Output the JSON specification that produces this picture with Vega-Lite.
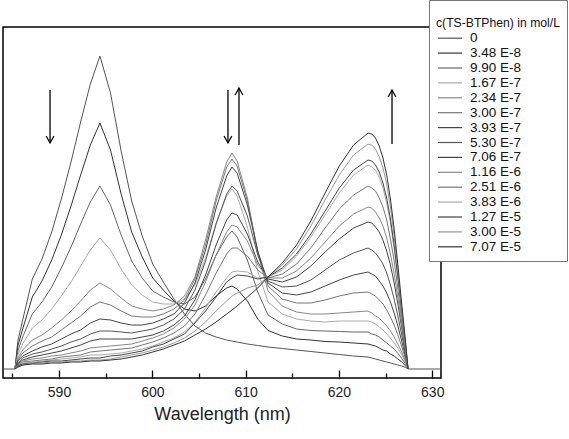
{
"$schema":"https://vega.github.io/schema/vega-lite/v6.json",
"width":438,"height":351,
"autosize":{"type":"none"},
"padding":{"left":3,"top":27,"right":128,"bottom":61},
"config":{"view":{"stroke":"#000","strokeWidth":1.5},"font":"Liberation Sans",
"legend":{"titleFont":"Liberation Sans","labelFont":"Liberation Sans"}},
"resolve":{"axis":{"x":"independent"}},
"layer":[
{"data":{"values":[
{"c":"0","x":584.1,"y":0},{"c":"0","x":585.28,"y":0},{"c":"0","x":585.59,"y":28},{"c":"0","x":586.11,"y":49},{"c":"0","x":587.14,"y":90},{"c":"0","x":588.18,"y":110},{"c":"0","x":589.22,"y":137},{"c":"0","x":590.25,"y":170},{"c":"0","x":591.29,"y":207},{"c":"0","x":592.32,"y":247},{"c":"0","x":593.36,"y":285},{"c":"0","x":594.39,"y":313},{"c":"0","x":595.52,"y":276},{"c":"0","x":596.66,"y":218},{"c":"0","x":597.79,"y":168},{"c":"0","x":598.92,"y":133},{"c":"0","x":600.05,"y":105},{"c":"0","x":601.18,"y":87},{"c":"0","x":602.32,"y":70},{"c":"0","x":603.45,"y":55},{"c":"0","x":604.57,"y":43},{"c":"0","x":605.71,"y":36},{"c":"0","x":606.84,"y":32},{"c":"0","x":607.97,"y":29},{"c":"0","x":608.54,"y":28},{"c":"0","x":609.09,"y":27},{"c":"0","x":610.19,"y":25},{"c":"0","x":611.3,"y":23.5},{"c":"0","x":612.4,"y":22},{"c":"0","x":613.93,"y":20.5},{"c":"0","x":615.46,"y":19},{"c":"0","x":616.99,"y":17.5},{"c":"0","x":618.52,"y":16},{"c":"0","x":620.04,"y":14.5},{"c":"0","x":621.57,"y":13},{"c":"0","x":623.12,"y":12},{"c":"0","x":623.52,"y":11},{"c":"0","x":623.92,"y":10},{"c":"0","x":624.32,"y":9},{"c":"0","x":624.72,"y":8},{"c":"0","x":625.12,"y":7},{"c":"0","x":625.52,"y":6},{"c":"0","x":625.92,"y":5},{"c":"0","x":626.32,"y":4},{"c":"0","x":626.73,"y":3},{"c":"0","x":627.13,"y":1.5},{"c":"0","x":627.41,"y":0},{"c":"0","x":630.9,"y":0},
{"c":"3.48 E-8","x":585.28,"y":0},{"c":"3.48 E-8","x":585.59,"y":23},{"c":"3.48 E-8","x":586.11,"y":40},{"c":"3.48 E-8","x":587.14,"y":72},{"c":"3.48 E-8","x":588.18,"y":88},{"c":"3.48 E-8","x":589.22,"y":109},{"c":"3.48 E-8","x":590.25,"y":134},{"c":"3.48 E-8","x":591.29,"y":163},{"c":"3.48 E-8","x":592.32,"y":194},{"c":"3.48 E-8","x":593.36,"y":224},{"c":"3.48 E-8","x":594.39,"y":246},{"c":"3.48 E-8","x":595.52,"y":219},{"c":"3.48 E-8","x":596.66,"y":175},{"c":"3.48 E-8","x":597.79,"y":137},{"c":"3.48 E-8","x":598.92,"y":112},{"c":"3.48 E-8","x":600.05,"y":91},{"c":"3.48 E-8","x":601.18,"y":79},{"c":"3.48 E-8","x":602.32,"y":68},{"c":"3.48 E-8","x":603.45,"y":60},{"c":"3.48 E-8","x":604.57,"y":58},{"c":"3.48 E-8","x":605.71,"y":63},{"c":"3.48 E-8","x":606.84,"y":73},{"c":"3.48 E-8","x":607.97,"y":81},{"c":"3.48 E-8","x":608.54,"y":83},{"c":"3.48 E-8","x":609.09,"y":80},{"c":"3.48 E-8","x":610.19,"y":68},{"c":"3.48 E-8","x":611.3,"y":50},{"c":"3.48 E-8","x":612.4,"y":38.5},{"c":"3.48 E-8","x":613.93,"y":33},{"c":"3.48 E-8","x":615.46,"y":30},{"c":"3.48 E-8","x":616.99,"y":29},{"c":"3.48 E-8","x":618.52,"y":27.5},{"c":"3.48 E-8","x":620.04,"y":27},{"c":"3.48 E-8","x":621.57,"y":26},{"c":"3.48 E-8","x":623.12,"y":25},{"c":"3.48 E-8","x":623.52,"y":24},{"c":"3.48 E-8","x":623.92,"y":23},{"c":"3.48 E-8","x":624.32,"y":21},{"c":"3.48 E-8","x":624.72,"y":19},{"c":"3.48 E-8","x":625.12,"y":18},{"c":"3.48 E-8","x":625.52,"y":15},{"c":"3.48 E-8","x":625.92,"y":13},{"c":"3.48 E-8","x":626.32,"y":10},{"c":"3.48 E-8","x":626.73,"y":7.1},{"c":"3.48 E-8","x":627.13,"y":3.4},{"c":"3.48 E-8","x":627.41,"y":0},
{"c":"9.90 E-8","x":585.28,"y":0},{"c":"9.90 E-8","x":585.59,"y":18},{"c":"9.90 E-8","x":586.11,"y":32},{"c":"9.90 E-8","x":587.14,"y":55},{"c":"9.90 E-8","x":588.18,"y":67},{"c":"9.90 E-8","x":589.22,"y":82},{"c":"9.90 E-8","x":590.25,"y":101},{"c":"9.90 E-8","x":591.29,"y":122},{"c":"9.90 E-8","x":592.32,"y":145},{"c":"9.90 E-8","x":593.36,"y":167},{"c":"9.90 E-8","x":594.39,"y":183},{"c":"9.90 E-8","x":595.52,"y":164},{"c":"9.90 E-8","x":596.66,"y":134},{"c":"9.90 E-8","x":597.79,"y":108},{"c":"9.90 E-8","x":598.92,"y":91},{"c":"9.90 E-8","x":600.05,"y":78},{"c":"9.90 E-8","x":601.18,"y":72},{"c":"9.90 E-8","x":602.32,"y":67},{"c":"9.90 E-8","x":603.45,"y":65},{"c":"9.90 E-8","x":604.57,"y":72},{"c":"9.90 E-8","x":605.71,"y":90},{"c":"9.90 E-8","x":606.84,"y":114},{"c":"9.90 E-8","x":607.97,"y":132},{"c":"9.90 E-8","x":608.54,"y":138},{"c":"9.90 E-8","x":609.09,"y":132},{"c":"9.90 E-8","x":610.19,"y":109},{"c":"9.90 E-8","x":611.3,"y":77},{"c":"9.90 E-8","x":612.4,"y":54},{"c":"9.90 E-8","x":613.93,"y":45},{"c":"9.90 E-8","x":615.46,"y":40},{"c":"9.90 E-8","x":616.99,"y":38.5},{"c":"9.90 E-8","x":618.52,"y":38},{"c":"9.90 E-8","x":620.04,"y":37.5},{"c":"9.90 E-8","x":621.57,"y":37},{"c":"9.90 E-8","x":623.12,"y":37},{"c":"9.90 E-8","x":623.52,"y":35},{"c":"9.90 E-8","x":623.92,"y":34},{"c":"9.90 E-8","x":624.32,"y":32},{"c":"9.90 E-8","x":624.72,"y":29},{"c":"9.90 E-8","x":625.12,"y":26},{"c":"9.90 E-8","x":625.52,"y":23},{"c":"9.90 E-8","x":625.92,"y":20},{"c":"9.90 E-8","x":626.32,"y":15.5},{"c":"9.90 E-8","x":626.73,"y":10.6},{"c":"9.90 E-8","x":627.13,"y":5.2},{"c":"9.90 E-8","x":627.41,"y":0},
{"c":"1.67 E-7","x":585.28,"y":0},{"c":"1.67 E-7","x":585.59,"y":14},{"c":"1.67 E-7","x":586.11,"y":25},{"c":"1.67 E-7","x":587.14,"y":41},{"c":"1.67 E-7","x":588.18,"y":49},{"c":"1.67 E-7","x":589.22,"y":60},{"c":"1.67 E-7","x":590.25,"y":73},{"c":"1.67 E-7","x":591.29,"y":87},{"c":"1.67 E-7","x":592.32,"y":103},{"c":"1.67 E-7","x":593.36,"y":119},{"c":"1.67 E-7","x":594.39,"y":131},{"c":"1.67 E-7","x":595.52,"y":119},{"c":"1.67 E-7","x":596.66,"y":100},{"c":"1.67 E-7","x":597.79,"y":84},{"c":"1.67 E-7","x":598.92,"y":74},{"c":"1.67 E-7","x":600.05,"y":67},{"c":"1.67 E-7","x":601.18,"y":65},{"c":"1.67 E-7","x":602.32,"y":65},{"c":"1.67 E-7","x":603.45,"y":70},{"c":"1.67 E-7","x":604.57,"y":84},{"c":"1.67 E-7","x":605.71,"y":111},{"c":"1.67 E-7","x":606.84,"y":146},{"c":"1.67 E-7","x":607.97,"y":173},{"c":"1.67 E-7","x":608.54,"y":180},{"c":"1.67 E-7","x":609.09,"y":173},{"c":"1.67 E-7","x":610.19,"y":142},{"c":"1.67 E-7","x":611.3,"y":98},{"c":"1.67 E-7","x":612.4,"y":67},{"c":"1.67 E-7","x":613.93,"y":55},{"c":"1.67 E-7","x":615.46,"y":50},{"c":"1.67 E-7","x":616.99,"y":48},{"c":"1.67 E-7","x":618.52,"y":47},{"c":"1.67 E-7","x":620.04,"y":48},{"c":"1.67 E-7","x":621.57,"y":48},{"c":"1.67 E-7","x":623.12,"y":48},{"c":"1.67 E-7","x":623.52,"y":47},{"c":"1.67 E-7","x":623.92,"y":45},{"c":"1.67 E-7","x":624.32,"y":42},{"c":"1.67 E-7","x":624.72,"y":39},{"c":"1.67 E-7","x":625.12,"y":35},{"c":"1.67 E-7","x":625.52,"y":31},{"c":"1.67 E-7","x":625.92,"y":26},{"c":"1.67 E-7","x":626.32,"y":21},{"c":"1.67 E-7","x":626.73,"y":14.1},{"c":"1.67 E-7","x":627.13,"y":6.8},{"c":"1.67 E-7","x":627.41,"y":0},
{"c":"2.34 E-7","x":585.28,"y":0},{"c":"2.34 E-7","x":585.59,"y":11},{"c":"2.34 E-7","x":586.11,"y":19},{"c":"2.34 E-7","x":587.14,"y":29},{"c":"2.34 E-7","x":588.18,"y":34},{"c":"2.34 E-7","x":589.22,"y":41},{"c":"2.34 E-7","x":590.25,"y":49},{"c":"2.34 E-7","x":591.29,"y":58},{"c":"2.34 E-7","x":592.32,"y":68},{"c":"2.34 E-7","x":593.36,"y":79},{"c":"2.34 E-7","x":594.39,"y":86},{"c":"2.34 E-7","x":595.52,"y":80},{"c":"2.34 E-7","x":596.66,"y":71},{"c":"2.34 E-7","x":597.79,"y":63},{"c":"2.34 E-7","x":598.92,"y":60},{"c":"2.34 E-7","x":600.05,"y":58},{"c":"2.34 E-7","x":601.18,"y":60},{"c":"2.34 E-7","x":602.32,"y":64},{"c":"2.34 E-7","x":603.45,"y":73},{"c":"2.34 E-7","x":604.57,"y":92},{"c":"2.34 E-7","x":605.71,"y":129},{"c":"2.34 E-7","x":606.84,"y":172},{"c":"2.34 E-7","x":607.97,"y":207},{"c":"2.34 E-7","x":608.54,"y":216},{"c":"2.34 E-7","x":609.09,"y":208},{"c":"2.34 E-7","x":610.19,"y":171},{"c":"2.34 E-7","x":611.3,"y":116},{"c":"2.34 E-7","x":612.4,"y":78},{"c":"2.34 E-7","x":613.93,"y":63},{"c":"2.34 E-7","x":615.46,"y":57},{"c":"2.34 E-7","x":616.99,"y":55},{"c":"2.34 E-7","x":618.52,"y":55},{"c":"2.34 E-7","x":620.04,"y":56},{"c":"2.34 E-7","x":621.57,"y":57},{"c":"2.34 E-7","x":623.12,"y":58},{"c":"2.34 E-7","x":623.52,"y":56},{"c":"2.34 E-7","x":623.92,"y":53},{"c":"2.34 E-7","x":624.32,"y":51},{"c":"2.34 E-7","x":624.72,"y":47},{"c":"2.34 E-7","x":625.12,"y":43},{"c":"2.34 E-7","x":625.52,"y":38},{"c":"2.34 E-7","x":625.92,"y":32},{"c":"2.34 E-7","x":626.32,"y":25},{"c":"2.34 E-7","x":626.73,"y":17},{"c":"2.34 E-7","x":627.13,"y":8.2},{"c":"2.34 E-7","x":627.41,"y":0},
{"c":"3.00 E-7","x":585.28,"y":0},{"c":"3.00 E-7","x":585.59,"y":9},{"c":"3.00 E-7","x":586.11,"y":16},{"c":"3.00 E-7","x":587.14,"y":23},{"c":"3.00 E-7","x":588.18,"y":28},{"c":"3.00 E-7","x":589.22,"y":32},{"c":"3.00 E-7","x":590.25,"y":39},{"c":"3.00 E-7","x":591.29,"y":46},{"c":"3.00 E-7","x":592.32,"y":53},{"c":"3.00 E-7","x":593.36,"y":62},{"c":"3.00 E-7","x":594.39,"y":67},{"c":"3.00 E-7","x":595.52,"y":64},{"c":"3.00 E-7","x":596.66,"y":58},{"c":"3.00 E-7","x":597.79,"y":53},{"c":"3.00 E-7","x":598.92,"y":52},{"c":"3.00 E-7","x":600.05,"y":52},{"c":"3.00 E-7","x":601.18,"y":55},{"c":"3.00 E-7","x":602.32,"y":60},{"c":"3.00 E-7","x":603.45,"y":69},{"c":"3.00 E-7","x":604.57,"y":90},{"c":"3.00 E-7","x":605.71,"y":124},{"c":"3.00 E-7","x":606.84,"y":168},{"c":"3.00 E-7","x":607.97,"y":202},{"c":"3.00 E-7","x":608.54,"y":210},{"c":"3.00 E-7","x":609.09,"y":203},{"c":"3.00 E-7","x":610.19,"y":168},{"c":"3.00 E-7","x":611.3,"y":118},{"c":"3.00 E-7","x":612.4,"y":83},{"c":"3.00 E-7","x":613.93,"y":70},{"c":"3.00 E-7","x":615.46,"y":66},{"c":"3.00 E-7","x":616.99,"y":66},{"c":"3.00 E-7","x":618.52,"y":69},{"c":"3.00 E-7","x":620.04,"y":73},{"c":"3.00 E-7","x":621.57,"y":76},{"c":"3.00 E-7","x":623.12,"y":77},{"c":"3.00 E-7","x":623.52,"y":75},{"c":"3.00 E-7","x":623.92,"y":73},{"c":"3.00 E-7","x":624.32,"y":69},{"c":"3.00 E-7","x":624.72,"y":65},{"c":"3.00 E-7","x":625.12,"y":59},{"c":"3.00 E-7","x":625.52,"y":52},{"c":"3.00 E-7","x":625.92,"y":44},{"c":"3.00 E-7","x":626.32,"y":34},{"c":"3.00 E-7","x":626.73,"y":22.3},{"c":"3.00 E-7","x":627.13,"y":10.6},{"c":"3.00 E-7","x":627.41,"y":0},
{"c":"3.93 E-7","x":585.28,"y":0},{"c":"3.93 E-7","x":585.59,"y":8},{"c":"3.93 E-7","x":586.11,"y":13},{"c":"3.93 E-7","x":587.14,"y":18},{"c":"3.93 E-7","x":588.18,"y":22},{"c":"3.93 E-7","x":589.22,"y":25},{"c":"3.93 E-7","x":590.25,"y":30},{"c":"3.93 E-7","x":591.29,"y":35},{"c":"3.93 E-7","x":592.32,"y":39},{"c":"3.93 E-7","x":593.36,"y":46},{"c":"3.93 E-7","x":594.39,"y":50},{"c":"3.93 E-7","x":595.52,"y":49},{"c":"3.93 E-7","x":596.66,"y":46},{"c":"3.93 E-7","x":597.79,"y":44},{"c":"3.93 E-7","x":598.92,"y":44},{"c":"3.93 E-7","x":600.05,"y":46},{"c":"3.93 E-7","x":601.18,"y":50},{"c":"3.93 E-7","x":602.32,"y":55},{"c":"3.93 E-7","x":603.45,"y":66},{"c":"3.93 E-7","x":604.57,"y":86},{"c":"3.93 E-7","x":605.71,"y":119},{"c":"3.93 E-7","x":606.84,"y":161},{"c":"3.93 E-7","x":607.97,"y":193},{"c":"3.93 E-7","x":608.54,"y":202},{"c":"3.93 E-7","x":609.09,"y":196},{"c":"3.93 E-7","x":610.19,"y":164},{"c":"3.93 E-7","x":611.3,"y":118},{"c":"3.93 E-7","x":612.4,"y":86},{"c":"3.93 E-7","x":613.93,"y":76},{"c":"3.93 E-7","x":615.46,"y":74},{"c":"3.93 E-7","x":616.99,"y":77},{"c":"3.93 E-7","x":618.52,"y":83},{"c":"3.93 E-7","x":620.04,"y":89},{"c":"3.93 E-7","x":621.57,"y":94},{"c":"3.93 E-7","x":623.12,"y":97},{"c":"3.93 E-7","x":623.52,"y":95},{"c":"3.93 E-7","x":623.92,"y":93},{"c":"3.93 E-7","x":624.32,"y":88},{"c":"3.93 E-7","x":624.72,"y":83},{"c":"3.93 E-7","x":625.12,"y":76},{"c":"3.93 E-7","x":625.52,"y":67},{"c":"3.93 E-7","x":625.92,"y":56},{"c":"3.93 E-7","x":626.32,"y":43},{"c":"3.93 E-7","x":626.73,"y":27.8},{"c":"3.93 E-7","x":627.13,"y":12.8},{"c":"3.93 E-7","x":627.41,"y":0},
{"c":"5.30 E-7","x":585.28,"y":0},{"c":"5.30 E-7","x":585.59,"y":6},{"c":"5.30 E-7","x":586.11,"y":11},{"c":"5.30 E-7","x":587.14,"y":15},{"c":"5.30 E-7","x":588.18,"y":17},{"c":"5.30 E-7","x":589.22,"y":20},{"c":"5.30 E-7","x":590.25,"y":23},{"c":"5.30 E-7","x":591.29,"y":27},{"c":"5.30 E-7","x":592.32,"y":30},{"c":"5.30 E-7","x":593.36,"y":35},{"c":"5.30 E-7","x":594.39,"y":38},{"c":"5.30 E-7","x":595.52,"y":38},{"c":"5.30 E-7","x":596.66,"y":37},{"c":"5.30 E-7","x":597.79,"y":36},{"c":"5.30 E-7","x":598.92,"y":38},{"c":"5.30 E-7","x":600.05,"y":40},{"c":"5.30 E-7","x":601.18,"y":44},{"c":"5.30 E-7","x":602.32,"y":50},{"c":"5.30 E-7","x":603.45,"y":60},{"c":"5.30 E-7","x":604.57,"y":79},{"c":"5.30 E-7","x":605.71,"y":108},{"c":"5.30 E-7","x":606.84,"y":145},{"c":"5.30 E-7","x":607.97,"y":175},{"c":"5.30 E-7","x":608.54,"y":183},{"c":"5.30 E-7","x":609.09,"y":178},{"c":"5.30 E-7","x":610.19,"y":153},{"c":"5.30 E-7","x":611.3,"y":114},{"c":"5.30 E-7","x":612.4,"y":88},{"c":"5.30 E-7","x":613.93,"y":82},{"c":"5.30 E-7","x":615.46,"y":83},{"c":"5.30 E-7","x":616.99,"y":89},{"c":"5.30 E-7","x":618.52,"y":99},{"c":"5.30 E-7","x":620.04,"y":109},{"c":"5.30 E-7","x":621.57,"y":116},{"c":"5.30 E-7","x":623.12,"y":121},{"c":"5.30 E-7","x":623.52,"y":119},{"c":"5.30 E-7","x":623.92,"y":116},{"c":"5.30 E-7","x":624.32,"y":111},{"c":"5.30 E-7","x":624.72,"y":105},{"c":"5.30 E-7","x":625.12,"y":96},{"c":"5.30 E-7","x":625.52,"y":84},{"c":"5.30 E-7","x":625.92,"y":70},{"c":"5.30 E-7","x":626.32,"y":53},{"c":"5.30 E-7","x":626.73,"y":34.1},{"c":"5.30 E-7","x":627.13,"y":15.5},{"c":"5.30 E-7","x":627.41,"y":0},
{"c":"7.06 E-7","x":585.28,"y":0},{"c":"7.06 E-7","x":585.59,"y":5},{"c":"7.06 E-7","x":586.11,"y":9},{"c":"7.06 E-7","x":587.14,"y":12},{"c":"7.06 E-7","x":588.18,"y":14},{"c":"7.06 E-7","x":589.22,"y":16},{"c":"7.06 E-7","x":590.25,"y":18},{"c":"7.06 E-7","x":591.29,"y":21},{"c":"7.06 E-7","x":592.32,"y":24},{"c":"7.06 E-7","x":593.36,"y":28},{"c":"7.06 E-7","x":594.39,"y":30},{"c":"7.06 E-7","x":595.52,"y":30},{"c":"7.06 E-7","x":596.66,"y":30},{"c":"7.06 E-7","x":597.79,"y":30},{"c":"7.06 E-7","x":598.92,"y":32},{"c":"7.06 E-7","x":600.05,"y":34},{"c":"7.06 E-7","x":601.18,"y":38},{"c":"7.06 E-7","x":602.32,"y":44},{"c":"7.06 E-7","x":603.45,"y":53},{"c":"7.06 E-7","x":604.57,"y":69},{"c":"7.06 E-7","x":605.71,"y":94},{"c":"7.06 E-7","x":606.84,"y":124},{"c":"7.06 E-7","x":607.97,"y":149},{"c":"7.06 E-7","x":608.54,"y":156},{"c":"7.06 E-7","x":609.09,"y":154},{"c":"7.06 E-7","x":610.19,"y":135},{"c":"7.06 E-7","x":611.3,"y":107},{"c":"7.06 E-7","x":612.4,"y":90},{"c":"7.06 E-7","x":613.93,"y":87},{"c":"7.06 E-7","x":615.46,"y":92},{"c":"7.06 E-7","x":616.99,"y":103},{"c":"7.06 E-7","x":618.52,"y":117},{"c":"7.06 E-7","x":620.04,"y":130},{"c":"7.06 E-7","x":621.57,"y":141},{"c":"7.06 E-7","x":623.12,"y":147},{"c":"7.06 E-7","x":623.52,"y":146},{"c":"7.06 E-7","x":623.92,"y":142},{"c":"7.06 E-7","x":624.32,"y":137},{"c":"7.06 E-7","x":624.72,"y":129},{"c":"7.06 E-7","x":625.12,"y":118},{"c":"7.06 E-7","x":625.52,"y":104},{"c":"7.06 E-7","x":625.92,"y":86},{"c":"7.06 E-7","x":626.32,"y":65},{"c":"7.06 E-7","x":626.73,"y":41.2},{"c":"7.06 E-7","x":627.13,"y":18.3},{"c":"7.06 E-7","x":627.41,"y":0},
{"c":"1.16 E-6","x":585.28,"y":0},{"c":"1.16 E-6","x":585.59,"y":4},{"c":"1.16 E-6","x":586.11,"y":8},{"c":"1.16 E-6","x":587.14,"y":10},{"c":"1.16 E-6","x":588.18,"y":11},{"c":"1.16 E-6","x":589.22,"y":13},{"c":"1.16 E-6","x":590.25,"y":14},{"c":"1.16 E-6","x":591.29,"y":16},{"c":"1.16 E-6","x":592.32,"y":18},{"c":"1.16 E-6","x":593.36,"y":21},{"c":"1.16 E-6","x":594.39,"y":22},{"c":"1.16 E-6","x":595.52,"y":23},{"c":"1.16 E-6","x":596.66,"y":24},{"c":"1.16 E-6","x":597.79,"y":25},{"c":"1.16 E-6","x":598.92,"y":28},{"c":"1.16 E-6","x":600.05,"y":31},{"c":"1.16 E-6","x":601.18,"y":35},{"c":"1.16 E-6","x":602.32,"y":41},{"c":"1.16 E-6","x":603.45,"y":50},{"c":"1.16 E-6","x":604.57,"y":64},{"c":"1.16 E-6","x":605.71,"y":87},{"c":"1.16 E-6","x":606.84,"y":114},{"c":"1.16 E-6","x":607.97,"y":137},{"c":"1.16 E-6","x":608.54,"y":144},{"c":"1.16 E-6","x":609.09,"y":142},{"c":"1.16 E-6","x":610.19,"y":128},{"c":"1.16 E-6","x":611.3,"y":104},{"c":"1.16 E-6","x":612.4,"y":91},{"c":"1.16 E-6","x":613.93,"y":91},{"c":"1.16 E-6","x":615.46,"y":98},{"c":"1.16 E-6","x":616.99,"y":111},{"c":"1.16 E-6","x":618.52,"y":127},{"c":"1.16 E-6","x":620.04,"y":143},{"c":"1.16 E-6","x":621.57,"y":155},{"c":"1.16 E-6","x":623.12,"y":162},{"c":"1.16 E-6","x":623.52,"y":161},{"c":"1.16 E-6","x":623.92,"y":157},{"c":"1.16 E-6","x":624.32,"y":151},{"c":"1.16 E-6","x":624.72,"y":143},{"c":"1.16 E-6","x":625.12,"y":131},{"c":"1.16 E-6","x":625.52,"y":115},{"c":"1.16 E-6","x":625.92,"y":95},{"c":"1.16 E-6","x":626.32,"y":71},{"c":"1.16 E-6","x":626.73,"y":45.3},{"c":"1.16 E-6","x":627.13,"y":20},{"c":"1.16 E-6","x":627.41,"y":0},
{"c":"2.51 E-6","x":585.28,"y":0},{"c":"2.51 E-6","x":585.59,"y":4},{"c":"2.51 E-6","x":586.11,"y":7},{"c":"2.51 E-6","x":587.14,"y":8},{"c":"2.51 E-6","x":588.18,"y":9},{"c":"2.51 E-6","x":589.22,"y":10},{"c":"2.51 E-6","x":590.25,"y":12},{"c":"2.51 E-6","x":591.29,"y":13},{"c":"2.51 E-6","x":592.32,"y":14},{"c":"2.51 E-6","x":593.36,"y":17},{"c":"2.51 E-6","x":594.39,"y":18},{"c":"2.51 E-6","x":595.52,"y":19},{"c":"2.51 E-6","x":596.66,"y":20},{"c":"2.51 E-6","x":597.79,"y":21},{"c":"2.51 E-6","x":598.92,"y":24},{"c":"2.51 E-6","x":600.05,"y":27},{"c":"2.51 E-6","x":601.18,"y":31},{"c":"2.51 E-6","x":602.32,"y":36},{"c":"2.51 E-6","x":603.45,"y":43},{"c":"2.51 E-6","x":604.57,"y":55},{"c":"2.51 E-6","x":605.71,"y":74},{"c":"2.51 E-6","x":606.84,"y":96},{"c":"2.51 E-6","x":607.97,"y":115},{"c":"2.51 E-6","x":608.54,"y":121},{"c":"2.51 E-6","x":609.09,"y":121},{"c":"2.51 E-6","x":610.19,"y":113},{"c":"2.51 E-6","x":611.3,"y":99},{"c":"2.51 E-6","x":612.4,"y":91},{"c":"2.51 E-6","x":613.93,"y":95},{"c":"2.51 E-6","x":615.46,"y":105},{"c":"2.51 E-6","x":616.99,"y":121},{"c":"2.51 E-6","x":618.52,"y":141},{"c":"2.51 E-6","x":620.04,"y":160},{"c":"2.51 E-6","x":621.57,"y":174},{"c":"2.51 E-6","x":623.12,"y":183},{"c":"2.51 E-6","x":623.52,"y":181},{"c":"2.51 E-6","x":623.92,"y":178},{"c":"2.51 E-6","x":624.32,"y":171},{"c":"2.51 E-6","x":624.72,"y":162},{"c":"2.51 E-6","x":625.12,"y":149},{"c":"2.51 E-6","x":625.52,"y":130},{"c":"2.51 E-6","x":625.92,"y":108},{"c":"2.51 E-6","x":626.32,"y":80},{"c":"2.51 E-6","x":626.73,"y":50.7},{"c":"2.51 E-6","x":627.13,"y":22.2},{"c":"2.51 E-6","x":627.41,"y":0},
{"c":"3.83 E-6","x":585.28,"y":0},{"c":"3.83 E-6","x":585.59,"y":3},{"c":"3.83 E-6","x":586.11,"y":6},{"c":"3.83 E-6","x":587.14,"y":7},{"c":"3.83 E-6","x":588.18,"y":8},{"c":"3.83 E-6","x":589.22,"y":9},{"c":"3.83 E-6","x":590.25,"y":10},{"c":"3.83 E-6","x":591.29,"y":11},{"c":"3.83 E-6","x":592.32,"y":12},{"c":"3.83 E-6","x":593.36,"y":14},{"c":"3.83 E-6","x":594.39,"y":14},{"c":"3.83 E-6","x":595.52,"y":15},{"c":"3.83 E-6","x":596.66,"y":16},{"c":"3.83 E-6","x":597.79,"y":18},{"c":"3.83 E-6","x":598.92,"y":20},{"c":"3.83 E-6","x":600.05,"y":23},{"c":"3.83 E-6","x":601.18,"y":27},{"c":"3.83 E-6","x":602.32,"y":31},{"c":"3.83 E-6","x":603.45,"y":37},{"c":"3.83 E-6","x":604.57,"y":47},{"c":"3.83 E-6","x":605.71,"y":61},{"c":"3.83 E-6","x":606.84,"y":77},{"c":"3.83 E-6","x":607.97,"y":91},{"c":"3.83 E-6","x":608.54,"y":97},{"c":"3.83 E-6","x":609.09,"y":98},{"c":"3.83 E-6","x":610.19,"y":97},{"c":"3.83 E-6","x":611.3,"y":91},{"c":"3.83 E-6","x":612.4,"y":92},{"c":"3.83 E-6","x":613.93,"y":99},{"c":"3.83 E-6","x":615.46,"y":113},{"c":"3.83 E-6","x":616.99,"y":132},{"c":"3.83 E-6","x":618.52,"y":154},{"c":"3.83 E-6","x":620.04,"y":176},{"c":"3.83 E-6","x":621.57,"y":194},{"c":"3.83 E-6","x":623.12,"y":204},{"c":"3.83 E-6","x":623.52,"y":202},{"c":"3.83 E-6","x":623.92,"y":199},{"c":"3.83 E-6","x":624.32,"y":192},{"c":"3.83 E-6","x":624.72,"y":181},{"c":"3.83 E-6","x":625.12,"y":166},{"c":"3.83 E-6","x":625.52,"y":146},{"c":"3.83 E-6","x":625.92,"y":120},{"c":"3.83 E-6","x":626.32,"y":90},{"c":"3.83 E-6","x":626.73,"y":56.3},{"c":"3.83 E-6","x":627.13,"y":24.5},{"c":"3.83 E-6","x":627.41,"y":0},
{"c":"1.27 E-5","x":585.28,"y":0},{"c":"1.27 E-5","x":585.59,"y":3},{"c":"1.27 E-5","x":586.11,"y":5},{"c":"1.27 E-5","x":587.14,"y":6},{"c":"1.27 E-5","x":588.18,"y":7},{"c":"1.27 E-5","x":589.22,"y":8},{"c":"1.27 E-5","x":590.25,"y":8},{"c":"1.27 E-5","x":591.29,"y":9},{"c":"1.27 E-5","x":592.32,"y":10},{"c":"1.27 E-5","x":593.36,"y":11},{"c":"1.27 E-5","x":594.39,"y":11},{"c":"1.27 E-5","x":595.52,"y":13},{"c":"1.27 E-5","x":596.66,"y":14},{"c":"1.27 E-5","x":597.79,"y":16},{"c":"1.27 E-5","x":598.92,"y":18},{"c":"1.27 E-5","x":600.05,"y":22},{"c":"1.27 E-5","x":601.18,"y":25},{"c":"1.27 E-5","x":602.32,"y":30},{"c":"1.27 E-5","x":603.45,"y":35},{"c":"1.27 E-5","x":604.57,"y":46},{"c":"1.27 E-5","x":605.71,"y":58},{"c":"1.27 E-5","x":606.84,"y":72},{"c":"1.27 E-5","x":607.97,"y":87},{"c":"1.27 E-5","x":608.54,"y":91},{"c":"1.27 E-5","x":609.09,"y":94},{"c":"1.27 E-5","x":610.19,"y":93},{"c":"1.27 E-5","x":611.3,"y":90},{"c":"1.27 E-5","x":612.4,"y":92},{"c":"1.27 E-5","x":613.93,"y":101},{"c":"1.27 E-5","x":615.46,"y":115},{"c":"1.27 E-5","x":616.99,"y":135},{"c":"1.27 E-5","x":618.52,"y":158},{"c":"1.27 E-5","x":620.04,"y":181},{"c":"1.27 E-5","x":621.57,"y":199},{"c":"1.27 E-5","x":623.12,"y":209},{"c":"1.27 E-5","x":623.52,"y":208},{"c":"1.27 E-5","x":623.92,"y":204},{"c":"1.27 E-5","x":624.32,"y":197},{"c":"1.27 E-5","x":624.72,"y":186},{"c":"1.27 E-5","x":625.12,"y":171},{"c":"1.27 E-5","x":625.52,"y":150},{"c":"1.27 E-5","x":625.92,"y":124},{"c":"1.27 E-5","x":626.32,"y":92},{"c":"1.27 E-5","x":626.73,"y":57.9},{"c":"1.27 E-5","x":627.13,"y":25.1},{"c":"1.27 E-5","x":627.41,"y":0},
{"c":"3.00 E-5","x":585.28,"y":0},{"c":"3.00 E-5","x":585.59,"y":2},{"c":"3.00 E-5","x":586.11,"y":4},{"c":"3.00 E-5","x":587.14,"y":6},{"c":"3.00 E-5","x":588.18,"y":6},{"c":"3.00 E-5","x":589.22,"y":7},{"c":"3.00 E-5","x":590.25,"y":7},{"c":"3.00 E-5","x":591.29,"y":8},{"c":"3.00 E-5","x":592.32,"y":8},{"c":"3.00 E-5","x":593.36,"y":9},{"c":"3.00 E-5","x":594.39,"y":9},{"c":"3.00 E-5","x":595.52,"y":10},{"c":"3.00 E-5","x":596.66,"y":12},{"c":"3.00 E-5","x":597.79,"y":14},{"c":"3.00 E-5","x":598.92,"y":16},{"c":"3.00 E-5","x":600.05,"y":19},{"c":"3.00 E-5","x":601.18,"y":22},{"c":"3.00 E-5","x":602.32,"y":26},{"c":"3.00 E-5","x":603.45,"y":31},{"c":"3.00 E-5","x":604.57,"y":38},{"c":"3.00 E-5","x":605.71,"y":47},{"c":"3.00 E-5","x":606.84,"y":58},{"c":"3.00 E-5","x":607.97,"y":68},{"c":"3.00 E-5","x":608.54,"y":73},{"c":"3.00 E-5","x":609.09,"y":76},{"c":"3.00 E-5","x":610.19,"y":81},{"c":"3.00 E-5","x":611.3,"y":84},{"c":"3.00 E-5","x":612.4,"y":92},{"c":"3.00 E-5","x":613.93,"y":104},{"c":"3.00 E-5","x":615.46,"y":120},{"c":"3.00 E-5","x":616.99,"y":143},{"c":"3.00 E-5","x":618.52,"y":169},{"c":"3.00 E-5","x":620.04,"y":194},{"c":"3.00 E-5","x":621.57,"y":214},{"c":"3.00 E-5","x":623.12,"y":225},{"c":"3.00 E-5","x":623.52,"y":224},{"c":"3.00 E-5","x":623.92,"y":220},{"c":"3.00 E-5","x":624.32,"y":212},{"c":"3.00 E-5","x":624.72,"y":201},{"c":"3.00 E-5","x":625.12,"y":185},{"c":"3.00 E-5","x":625.52,"y":162},{"c":"3.00 E-5","x":625.92,"y":133},{"c":"3.00 E-5","x":626.32,"y":99},{"c":"3.00 E-5","x":626.73,"y":62.1},{"c":"3.00 E-5","x":627.13,"y":26.8},{"c":"3.00 E-5","x":627.41,"y":0},
{"c":"7.07 E-5","x":585.28,"y":0},{"c":"7.07 E-5","x":585.59,"y":2},{"c":"7.07 E-5","x":586.11,"y":4},{"c":"7.07 E-5","x":587.14,"y":5},{"c":"7.07 E-5","x":588.18,"y":5},{"c":"7.07 E-5","x":589.22,"y":6},{"c":"7.07 E-5","x":590.25,"y":6},{"c":"7.07 E-5","x":591.29,"y":7},{"c":"7.07 E-5","x":592.32,"y":7},{"c":"7.07 E-5","x":593.36,"y":8},{"c":"7.07 E-5","x":594.39,"y":8},{"c":"7.07 E-5","x":595.52,"y":9},{"c":"7.07 E-5","x":596.66,"y":10},{"c":"7.07 E-5","x":597.79,"y":12},{"c":"7.07 E-5","x":598.92,"y":14},{"c":"7.07 E-5","x":600.05,"y":17},{"c":"7.07 E-5","x":601.18,"y":20},{"c":"7.07 E-5","x":602.32,"y":24},{"c":"7.07 E-5","x":603.45,"y":28},{"c":"7.07 E-5","x":604.57,"y":34},{"c":"7.07 E-5","x":605.71,"y":40},{"c":"7.07 E-5","x":606.84,"y":47},{"c":"7.07 E-5","x":607.97,"y":55},{"c":"7.07 E-5","x":608.54,"y":59},{"c":"7.07 E-5","x":609.09,"y":63},{"c":"7.07 E-5","x":610.19,"y":72},{"c":"7.07 E-5","x":611.3,"y":81},{"c":"7.07 E-5","x":612.4,"y":92},{"c":"7.07 E-5","x":613.93,"y":106},{"c":"7.07 E-5","x":615.46,"y":124},{"c":"7.07 E-5","x":616.99,"y":148},{"c":"7.07 E-5","x":618.52,"y":176},{"c":"7.07 E-5","x":620.04,"y":203},{"c":"7.07 E-5","x":621.57,"y":224},{"c":"7.07 E-5","x":623.12,"y":236},{"c":"7.07 E-5","x":623.52,"y":235},{"c":"7.07 E-5","x":623.92,"y":231},{"c":"7.07 E-5","x":624.32,"y":223},{"c":"7.07 E-5","x":624.72,"y":211},{"c":"7.07 E-5","x":625.12,"y":194},{"c":"7.07 E-5","x":625.52,"y":170},{"c":"7.07 E-5","x":625.92,"y":140},{"c":"7.07 E-5","x":626.32,"y":104},{"c":"7.07 E-5","x":626.73,"y":65},{"c":"7.07 E-5","x":627.13,"y":28},{"c":"7.07 E-5","x":627.41,"y":0}
]},
"mark":{"type":"line","strokeWidth":1,"interpolate":"linear"},
"encoding":{
"x":{"field":"x","type":"quantitative","scale":{"domain":[584.0,630.94],"nice":false,"zero":false},
"axis":{"orient":"bottom","values":[590,600,610,620,630],"tickSize":-8,"tickWidth":1.3,"tickColor":"#000","domain":false,"grid":false,"labelFontSize":14,"labelColor":"#222","labelPadding":15,"title":"Wavelength (nm)","titleFontSize":18,"titleFontWeight":"normal","titleColor":"#222","titlePadding":6}},
"y":{"field":"y","type":"quantitative","scale":{"domain":[-9,342],"nice":false,"zero":false},"axis":null},
"color":{"field":"c","type":"nominal","title":["","c(TS-BTPhen) in mol/L"],
"scale":{"domain":["0","3.48 E-8","9.90 E-8","1.67 E-7","2.34 E-7","3.00 E-7","3.93 E-7","5.30 E-7","7.06 E-7","1.16 E-6","2.51 E-6","3.83 E-6","1.27 E-5","3.00 E-5","7.07 E-5"],
"range":["#555555","#333333","#666666","#aaaaaa","#888888","#777777","#444444","#555555","#444444","#888888","#777777","#aaaaaa","#444444","#999999","#333333"]},
"legend":{"orient":"none","legendX":426,"legendY":-27,"padding":7,"fillColor":"#ffffff","strokeColor":"#777777","titleFontSize":12.2,"titleLineHeight":10,"titleFontWeight":"normal","titleColor":"#111","titlePadding":2,"labelFontSize":13.5,"labelColor":"#111","rowPadding":0.9,"symbolType":"M-2,0H2","symbolSize":144,"symbolStrokeWidth":1.2,"symbolOffset":7,"labelOffset":13}}
}},
{"data":{"values":[{"x":589.04,"tail":279,"head":226},{"x":608.11,"tail":279,"head":226},{"x":609.29,"tail":224,"head":281},{"x":625.69,"tail":225,"head":279}]},
"mark":{"type":"rule","color":"#000","strokeWidth":1.3},
"encoding":{"x":{"field":"x","type":"quantitative","axis":{"orient":"bottom","values":[585,595,605,615,625],"tickSize":-5,"tickWidth":1.3,"tickColor":"#000","labels":false,"domain":false,"grid":false,"title":null}},
"y":{"field":"tail","type":"quantitative"},"y2":{"field":"head"}}},
{"data":{"values":[{"x":589.04,"head":226},{"x":608.11,"head":226}]},
"mark":{"type":"point","shape":"M-1,-1.8L0,0L1,-1.8","size":60,"filled":false,"stroke":"#000","strokeWidth":1.3,"opacity":1},
"encoding":{"x":{"field":"x","type":"quantitative","axis":null},"y":{"field":"head","type":"quantitative"}}},
{"data":{"values":[{"x":609.29,"head":281},{"x":625.69,"head":279}]},
"mark":{"type":"point","shape":"M-1,1.8L0,0L1,1.8","size":60,"filled":false,"stroke":"#000","strokeWidth":1.3,"opacity":1},
"encoding":{"x":{"field":"x","type":"quantitative","axis":null},"y":{"field":"head","type":"quantitative"}}}
]
}
